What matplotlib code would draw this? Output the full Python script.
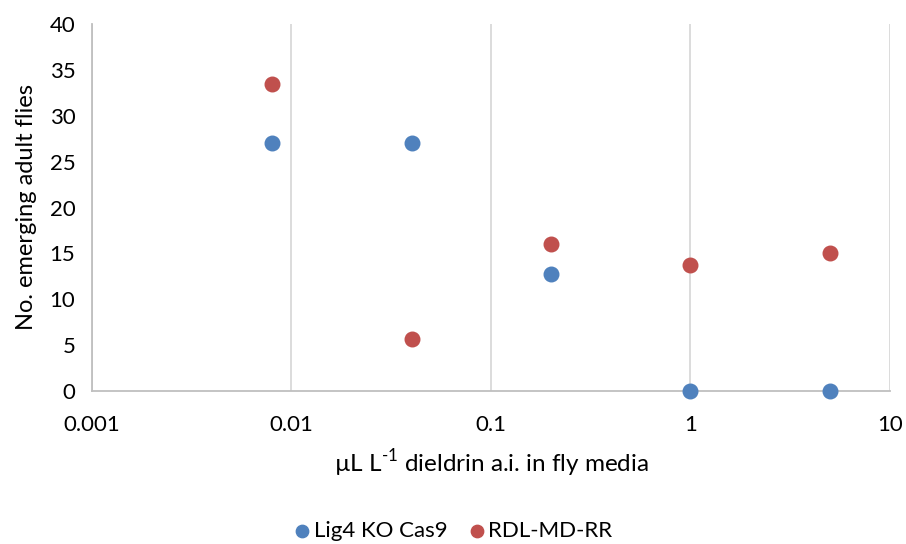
import matplotlib
matplotlib.use("Agg")
import matplotlib.pyplot as plt
from matplotlib.ticker import FixedLocator, FixedFormatter, NullLocator

plt.rcParams['font.family'] = ['Lato', 'DejaVu Sans']
plt.rcParams['mathtext.fontset'] = 'custom'
plt.rcParams['mathtext.rm'] = 'Lato'

conc = [0.008, 0.04, 0.2, 1, 5]
lig4 = [27, 27, 12.7, 0, 0]
rdl = [33.5, 5.7, 16, 13.7, 15]
xticks = [0.001, 0.01, 0.1, 1, 10]
xtick_labels = ["0.001", "0.01", "0.1", "1", "10"]
yticks = [0, 5, 10, 15, 20, 25, 30, 35, 40]

fig = plt.figure(figsize=(9.06, 5.44), dpi=100)
ax = fig.add_axes([92/906, 1-391/544, (890-92)/906, (391-24)/544])

ax.set_xscale('log')
ax.set_xlim(0.001, 10)
ax.set_ylim(0, 40)
ax.xaxis.set_major_locator(FixedLocator(xticks))
ax.xaxis.set_major_formatter(FixedFormatter(xtick_labels))
ax.xaxis.set_minor_locator(NullLocator())
ax.set_yticks(yticks)

ax.grid(True, axis='x', color='#d9d9d9', linewidth=1.3)
ax.set_axisbelow(True)
for s in ['top', 'right']:
    ax.spines[s].set_visible(False)
for s in ['left', 'bottom']:
    ax.spines[s].set_color('#bfbfbf')
    ax.spines[s].set_linewidth(1.3)
ax.tick_params(axis='both', length=0, labelsize=16, colors='#000000')
ax.tick_params(axis='y', pad=12)
ax.tick_params(axis='x', pad=17)

ax.scatter(conc, lig4, s=110, color='#4f81bd', zorder=3, label='Lig4 KO Cas9', clip_on=False)
ax.scatter(conc, rdl, s=110, color='#c0504d', zorder=3, label='RDL-MD-RR', clip_on=False)

ax.set_xlabel(r'µL L$^{\text{-1}}$ dieldrin a.i. in fly media', fontsize=17.5, labelpad=9)
ax.set_ylabel('No. emerging adult flies', fontsize=17, labelpad=9)

fig.legend(loc='center', bbox_to_anchor=(0.5, 1-531/544), ncol=2, frameon=False,
           fontsize=16, handlelength=0.8, handletextpad=0.1, columnspacing=0.95,
           markerscale=0.85)

fig.savefig('out.png', dpi=100)
